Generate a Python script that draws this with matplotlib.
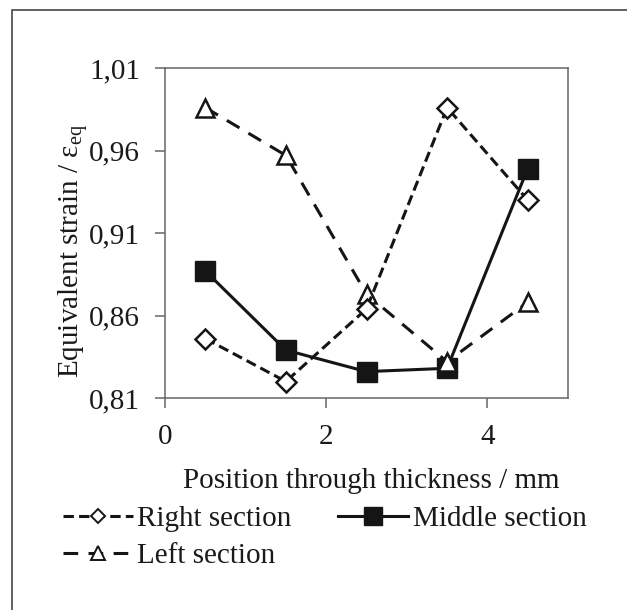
import matplotlib
matplotlib.use("Agg")
import matplotlib.pyplot as plt
from matplotlib.lines import Line2D
from matplotlib.patches import Rectangle

plt.rcParams['font.family'] = ['Liberation Serif', 'DejaVu Serif']
plt.rcParams['mathtext.fontset'] = 'custom'
plt.rcParams['mathtext.rm'] = 'Liberation Serif'
plt.rcParams['mathtext.it'] = 'Liberation Serif:italic'

# ---- data ----
positions = [0.5, 1.5, 2.5, 3.5, 4.5]
right_section = [0.846, 0.820, 0.864, 0.986, 0.930]
middle_section = [0.887, 0.839, 0.826, 0.828, 0.949]
left_section = [0.986, 0.957, 0.873, 0.832, 0.868]
y_ticks = [0.81, 0.86, 0.91, 0.96, 1.01]
y_tick_labels = ["0,81", "0,86", "0,91", "0,96", "1,01"]
x_ticks = [0, 2, 4]
x_label = "Position through thickness / mm"
y_label = "Equivalent strain / ε$_{\\mathregular{eq}}$"
series_names = ["Right section", "Middle section", "Left section"]

W, H = 627, 610
fig = plt.figure(figsize=(W / 100, H / 100), dpi=100)
ax = fig.add_axes([165 / W, 1 - 398 / H, 403 / W, 330 / H])

line_col = '#151515'
lw = 2.2
right_ls = (0, (3.4, 1.7))
left_ls = (0, (4.8, 3.4))

ax.plot(positions, middle_section, color=line_col, lw=lw, ls='-',
        marker='s', markersize=14, markerfacecolor=line_col,
        markeredgecolor=line_col, zorder=3)
ax.plot(positions, left_section, color=line_col, lw=lw, ls=left_ls,
        marker='^', markersize=12.5, markerfacecolor='white',
        markeredgecolor=line_col, markeredgewidth=1.8, zorder=4)
ax.plot(positions, right_section, color=line_col, lw=lw, ls=right_ls,
        marker='D', markersize=10, markerfacecolor='white',
        markeredgecolor=line_col, markeredgewidth=1.8, zorder=5)

ax.set_xlim(0, 5)
ax.set_ylim(0.81, 1.01)
ax.set_xticks(x_ticks)
ax.set_yticks(y_ticks)
ax.set_yticklabels(y_tick_labels)

spine_col = '#666666'
for s in ax.spines.values():
    s.set_color(spine_col)
    s.set_linewidth(1.1)
ax.tick_params(axis='both', direction='out', length=7, width=1.1,
               color=spine_col, labelsize=21, labelcolor='#1a1a1a')
ax.tick_params(axis='y', pad=11)
ax.tick_params(axis='x', pad=12)

ax.set_xlabel(x_label, fontsize=21, color='#1a1a1a')
ax.xaxis.set_label_coords(0.511, -0.212)
ax.set_ylabel(y_label, fontsize=21, color='#1a1a1a')
ax.yaxis.set_label_coords(-0.185, 0.445)

# legend handles
h_right = Line2D([], [], color=line_col, lw=lw, ls=right_ls, marker='D',
                 markersize=7.5, markerfacecolor='white',
                 markeredgecolor=line_col, markeredgewidth=1.4)
h_middle = Line2D([], [], color=line_col, lw=lw, ls='-', marker='s',
                  markersize=13, markerfacecolor=line_col,
                  markeredgecolor=line_col)
h_left = Line2D([], [], color=line_col, lw=lw, ls=left_ls, marker='^',
                markersize=9.5, markerfacecolor='white',
                markeredgecolor=line_col, markeredgewidth=1.4)

leg = fig.legend([h_right, h_left, h_middle],
                 [series_names[0], series_names[2], series_names[1]],
                 ncol=2, frameon=False, fontsize=21,
                 loc='upper left', bbox_to_anchor=(63 / W, 1 - 506 / H),
                 handlelength=2.4, handletextpad=0.15, columnspacing=1.6,
                 labelspacing=0.35, borderaxespad=0, borderpad=0)
for t in leg.get_texts():
    t.set_color('#1a1a1a')

# outer frame (partially cropped)
fig.patches.append(Rectangle((12 / W, -0.1), 1.2, 1 - 10 / H + 0.1,
                             transform=fig.transFigure, fill=False,
                             edgecolor='#555555', linewidth=1.3))

fig.savefig("out.png", dpi=100)
